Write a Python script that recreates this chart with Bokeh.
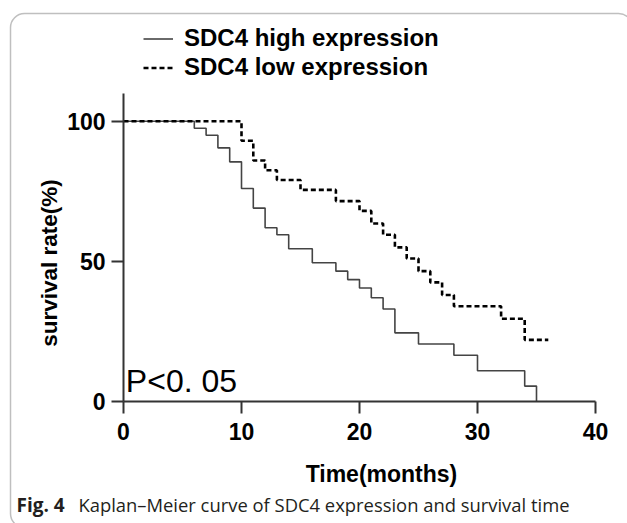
import math
from bokeh.plotting import figure
from bokeh.models import (FixedTicker, Label, Legend, LegendItem, Range1d,
                          BoxAnnotation)
from bokeh.embed import file_html
from bokeh.resources import INLINE

# Kaplan-Meier data (months, survival %)
high_t = [0, 6, 7, 8, 9, 10, 11, 12, 13, 14, 16, 18, 19, 20, 21, 22, 23, 25, 28, 30, 34, 35]
high_s = [100, 97.5, 95, 90.5, 85.5, 76, 69, 62, 59.5, 54.5, 49.5, 46.5, 43.5, 40.5, 37, 33, 24.5, 20.5, 16.5, 11, 5.5, 0]
low_t = [0, 10, 11, 12, 13, 15, 18, 20, 21, 22, 23, 24, 25, 26, 27, 28, 32, 34, 36]
low_s = [100, 93, 86, 82.5, 79, 75.5, 71.5, 68, 63.5, 59.5, 55, 51, 46.5, 42.5, 38, 34, 29.5, 22, 22]

x_ticks = [0, 10, 20, 30, 40]
y_ticks = [0, 50, 100]
series_names = ["SDC4 high expression", "SDC4 low expression"]

W, H = 627, 523
# pixel mapping: 11.8 px per month, 2.803 px per percent
p = figure(width=W, height=H, output_backend="svg", toolbar_location=None,
           x_range=Range1d(-10.424, 42.712), y_range=Range1d(-43.52, 143.06),
           min_border_left=0, min_border_right=0, min_border_top=0,
           min_border_bottom=0)
p.outline_line_color = None
p.grid.visible = False
p.background_fill_color = "white"
p.border_fill_color = "white"

# figure frame (rounded border)
p.add_layout(BoxAnnotation(left=-9.576, right=43.14, top=138.4, bottom=-44.95,
                           fill_alpha=0, line_color="#2a2a2a", line_width=1.5,
                           border_radius=14))

r1 = p.step(high_t, high_s, mode="after", line_color="#444444", line_width=1.6)
r2 = p.step(low_t, low_s, mode="after", line_color="black", line_width=2.6,
            line_dash="5 3")

for ax in (p.xaxis[0], p.yaxis[0]):
    ax.fixed_location = 0
    ax.axis_line_color = "#333333"
    ax.axis_line_width = 2
    ax.major_tick_line_color = "#333333"
    ax.major_tick_line_width = 2
    ax.major_tick_in = 0
    ax.major_tick_out = 12
    ax.minor_tick_line_color = None
    ax.major_label_text_font = "Liberation Sans"
    ax.major_label_text_font_style = "bold"
    ax.major_label_text_font_size = "23px"
    ax.major_label_text_color = "black"

p.xaxis[0].bounds = (0, 40)
p.yaxis[0].bounds = (0, 110)
p.xaxis[0].ticker = FixedTicker(ticks=x_ticks)
p.yaxis[0].ticker = FixedTicker(ticks=y_ticks)
p.xaxis[0].major_label_standoff = 9
p.yaxis[0].major_label_standoff = 6

p.add_layout(Label(x=-6.27, y=49.4, text="survival rate(%)", angle=math.pi / 2,
                   text_align="center", text_baseline="middle",
                   text_font="Liberation Sans", text_font_style="bold",
                   text_font_size="22.5px", text_color="black"))

p.add_layout(Label(x=21.86, y=-25.7, text="Time(months)", text_align="center",
                   text_baseline="alphabetic", text_font="Liberation Sans",
                   text_font_style="bold", text_font_size="23px",
                   text_color="black"))

p.add_layout(Label(x=0.2, y=7.4, text="P<0. 05", text_align="left",
                   text_baseline="alphabetic", text_font="Liberation Sans",
                   text_font_size="32px", text_color="black"))

p.add_layout(Label(x=-9.07, y=-36.8, text="Fig. 4", text_align="left",
                   text_baseline="alphabetic", text_font="Open Sans",
                   text_font_style="bold", text_font_size="19px",
                   text_color="#231f20"))
p.add_layout(Label(x=-3.82, y=-36.8,
                   text="Kaplan\u2013Meier curve of SDC4 expression and survival time",
                   text_align="left", text_baseline="alphabetic",
                   text_font="Open Sans", text_font_size="18.4px",
                   text_color="#231f20"))

legend = Legend(items=[LegendItem(label=series_names[0], renderers=[r1]),
                       LegendItem(label=series_names[1], renderers=[r2])],
                location=(143, 442), padding=0, margin=0, spacing=1,
                glyph_width=30, glyph_height=27, label_height=27,
                label_standoff=11, border_line_color=None,
                background_fill_alpha=0,
                label_text_font="Liberation Sans",
                label_text_font_style="bold", label_text_font_size="24px",
                label_text_color="black")
p.add_layout(legend, "center")

open("out.html", "w").write(file_html(p, INLINE))
